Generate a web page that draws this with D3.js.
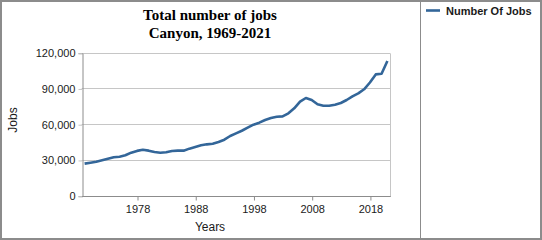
<!DOCTYPE html>
<html>
<head>
<meta charset="utf-8">
<script src="https://cdn.jsdelivr.net/npm/d3@7"></script>
<style>
  html, body { margin: 0; padding: 0; background: #fff; }
  svg { display: block; }
</style>
</head>
<body>
<svg id="chart" width="542" height="240"></svg>
<script>
const years = d3.range(1969, 2022);
const jobs = [
  26900, 27700, 28500, 29700, 31000, 32200, 32700, 33900, 36100, 37600,
  38600, 37800, 36700, 36100, 36400, 37500, 37800, 37800, 39500, 40900,
  42300, 43100, 43600, 45100, 47000, 50100, 52300, 54500, 57100, 59600,
  61300, 63500, 65200, 66300, 66600, 69100, 73300, 78900, 82000, 80300,
  76700, 75500, 75500, 76400, 77800, 80300, 83400, 85900, 89300, 95000,
  101800, 102300, 113000
];
const yTicks = [0, 30000, 60000, 90000, 120000];
const xTickYears = [1978, 1988, 1998, 2008, 2018];
const titleLines = ["Total number of jobs", "Canyon, 1969-2021"];
const seriesName = "Number Of Jobs";

const data = years.map((yr, i) => ({ year: yr, value: jobs[i] }));
const svg = d3.select("#chart");

const pLeft = 81.7, pRight = 390.3, pTop = 52.7, pBottom = 195.7;

const x = d3.scalePoint().domain(years).range([pLeft, pRight]).padding(0.5);
const y = d3.scaleLinear().domain([0, 120000]).range([pBottom, pTop]);

// outer border
svg.append("rect").attr("x", 1).attr("y", 1).attr("width", 540).attr("height", 238)
  .attr("fill", "none").attr("stroke", "#8c8c8c").attr("stroke-width", 2);
svg.append("line").attr("x1", 420.5).attr("x2", 420.5).attr("y1", 0).attr("y2", 240)
  .attr("stroke", "#8c8c8c").attr("stroke-width", 1);

// gridlines
svg.append("g").selectAll("line").data(yTicks.filter(d => d > 0)).join("line")
  .attr("x1", pLeft).attr("x2", pRight)
  .attr("y1", d => Math.round(y(d)) + 0.5).attr("y2", d => Math.round(y(d)) + 0.5)
  .attr("stroke", "#c6c6c6").attr("stroke-width", 1);
// right border of plot
svg.append("line").attr("x1", Math.round(pRight) + 0.5).attr("x2", Math.round(pRight) + 0.5)
  .attr("y1", Math.round(pTop) + 0.5).attr("y2", Math.round(pBottom) + 0.5)
  .attr("stroke", "#c6c6c6");

// y axis
const yAxis = d3.axisLeft(y).tickValues(yTicks).tickSize(4).tickPadding(3)
  .tickFormat(d3.format(","));
const gy = svg.append("g").attr("transform", `translate(${Math.round(pLeft) + 0.5},0.5)`).call(yAxis);
gy.select(".domain").attr("stroke", "#8c8c8c");
gy.selectAll(".tick line").attr("stroke", "#c6c6c6");
gy.selectAll("text").attr("font-family", "Liberation Sans, Arial, sans-serif")
  .attr("font-size", 11).attr("fill", "#1a1a1a");

// x axis
const xAxis = d3.axisBottom(x).tickValues(xTickYears).tickSize(4).tickPadding(5)
  .tickFormat(d3.format("d"));
const gx = svg.append("g").attr("transform", `translate(0.5,${Math.round(pBottom) + 0.5})`).call(xAxis);
gx.select(".domain").attr("stroke", "#8c8c8c").attr("d", `M${pLeft},0H${pRight}`);
gx.selectAll(".tick line").attr("stroke", "#8c8c8c");
gx.selectAll("text").attr("font-family", "Liberation Sans, Arial, sans-serif")
  .attr("font-size", 11).attr("fill", "#1a1a1a");

// line
const line = d3.line().x(d => x(d.year)).y(d => y(d.value));
svg.append("path").datum(data).attr("d", line)
  .attr("fill", "none").attr("stroke", "#336699").attr("stroke-width", 2.6)
  .attr("stroke-linejoin", "round");

// title
svg.append("g").selectAll("text").data(titleLines).join("text")
  .attr("x", 210).attr("y", (d, i) => 20 + i * 17.5)
  .attr("text-anchor", "middle")
  .attr("font-family", "Liberation Serif, Times New Roman, serif")
  .attr("font-weight", "bold").attr("font-size", 15).attr("fill", "#000")
  .text(d => d);

// axis titles
svg.append("text").attr("x", 210).attr("y", 231).attr("text-anchor", "middle")
  .attr("font-family", "Liberation Sans, Arial, sans-serif").attr("font-size", 12)
  .attr("fill", "#1a1a1a").text("Years");
svg.append("text").attr("transform", "translate(17,120) rotate(-90)").attr("text-anchor", "middle")
  .attr("font-family", "Liberation Sans, Arial, sans-serif").attr("font-size", 12)
  .attr("fill", "#1a1a1a").text("Jobs");

// legend
const lg = svg.append("g");
lg.append("line").attr("x1", 426).attr("x2", 440).attr("y1", 10.5).attr("y2", 10.5)
  .attr("stroke", "#336699").attr("stroke-width", 2.6);
lg.append("text").attr("x", 446).attr("y", 14.5)
  .attr("font-family", "Liberation Sans, Arial, sans-serif").attr("font-weight", "bold")
  .attr("font-size", 11).attr("fill", "#1a1a1a").text(seriesName);
</script>
</body>
</html>
